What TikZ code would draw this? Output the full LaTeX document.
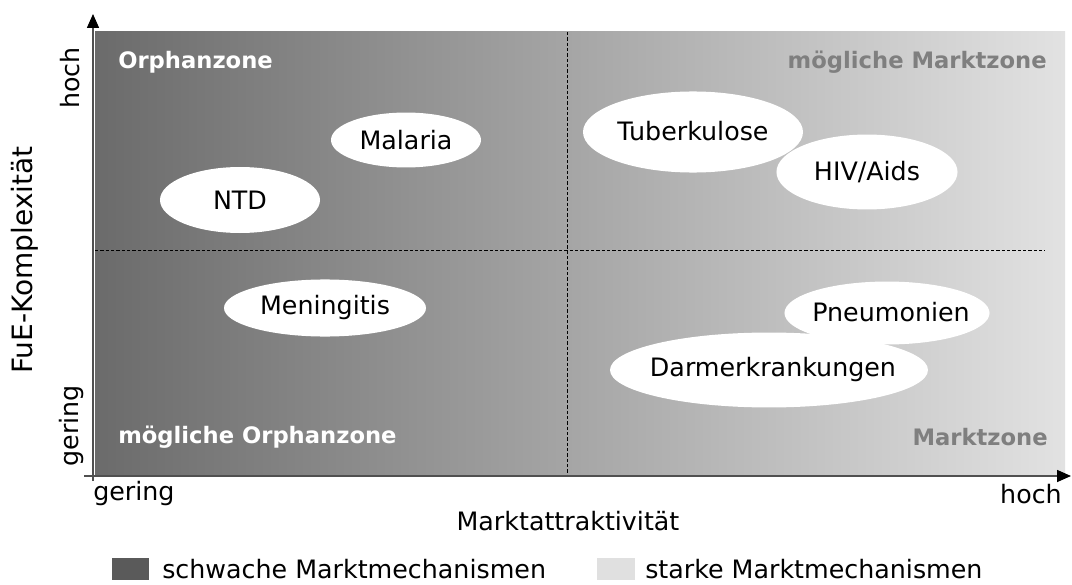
\documentclass[tikz,border=0pt]{standalone}
\usepackage{fontspec}
\setmainfont{DejaVu Sans}
\usetikzlibrary{arrows.meta}

\definecolor{fielddark}{HTML}{6B6B6B}
\definecolor{fieldlight}{HTML}{E2E2E2}
\definecolor{boxdark}{HTML}{5A5A5A}
\definecolor{boxlight}{HTML}{E0E0E0}
\definecolor{zonegray}{HTML}{7F7F7F}
\definecolor{axisgray}{HTML}{505050}

\tikzset{
  blob/.style={fill=white},
  disease/.style={inner sep=0pt, font=\fontsize{19}{23}\selectfont},
  zone/.style={inner sep=0pt, font=\fontsize{17}{20}\selectfont\bfseries},
  lbl/.style={inner sep=0pt, font=\fontsize{19}{23}\selectfont},
  axis/.style={draw=axisgray, line width=1.2pt, -{Triangle[length=10.5pt,width=9pt,color=black]}},
  split/.style={line width=0.6pt, dash pattern=on 2.5pt off 1.5pt}
}

\begin{document}
\begin{tikzpicture}[x=0.75pt,y=-0.75pt]
\useasboundingbox (0,0) rectangle (1072,585);

% Corners of the field and the ends of the axes
\coordinate (tl) at (95,32);
\coordinate (br) at (1065,476);
\coordinate (ytop) at (93,14);
\coordinate (ybot) at (93,481);
\coordinate (xleft) at (84,476);
\coordinate (xright) at (1071,476);

% Field, dark on the left and light on the right
\shade [left color=fielddark, right color=fieldlight] (tl) rectangle (br);

% Borders between the four zones
\coordinate (mtop) at (567,32);
\coordinate (mbot) at (567,476);
\coordinate (mleft) at (95,250);
\coordinate (mright) at (1045,250);
\draw [split] (mtop)--(mbot);
\draw [split] (mleft)--(mright);

% Axes
\draw [axis] (ybot)--(ytop);
\draw [axis] (xleft)--(xright);

% Names of the zones
\node [zone, white, anchor=west] (orph) at (118,62) {Orphanzone};
\node [zone, zonegray, anchor=east] (mmarkt) at (1047,62) {mögliche Marktzone};
\node [zone, white, anchor=west] (morph) at (118,437) {mögliche Orphanzone};
\node [zone, zonegray, anchor=east] (markt) at (1048,437) {Marktzone};

% White ellipses behind the diseases
\fill [blob] (406,140) ellipse [x radius=56.25pt, y radius=20.6pt];
\fill [blob] (240,200) ellipse [x radius=60pt, y radius=24.75pt];
\fill [blob] (693,132) ellipse [x radius=82.5pt, y radius=30.4pt];
\fill [blob] (867,172) ellipse [x radius=67.9pt, y radius=28.1pt];
\fill [blob] (325,308) ellipse [x radius=75.75pt, y radius=21.4pt];
\fill [blob] (887,313) ellipse [x radius=76.9pt, y radius=23.6pt];
\fill [blob] (769,370) ellipse [x radius=119.25pt, y radius=28.1pt];

% Diseases
\node [disease] (mal) at (406,140) {Malaria};
\node [disease] (ntd) at (240,200) {NTD};
\node [disease] (tbc) at (693,131) {Tuberkulose};
\node [disease] (hiv) at (867,172) {HIV/Aids};
\node [disease] (men) at (325,308) {Meningitis};
\node [disease] (pneu) at (891,312) {Pneumonien};
\node [disease] (darm) at (773,370) {Darmerkrankungen};

% Axis labels
\node [lbl, rotate=90] (yhoch) at (70,78) {hoch};
\node [lbl, rotate=90] (ygering) at (72,426) {gering};
\node [lbl, rotate=90, font=\fontsize{21}{25}\selectfont] (ytitle) at (25,260) {FuE-Komplexität};
\node [lbl, anchor=west] (xgering) at (93,494) {gering};
\node [lbl, anchor=east] (xhoch) at (1062,494) {hoch};
\node [lbl] (xtitle) at (568,521) {Marktattraktivität};

% Legend
\fill [boxdark] (112,558) rectangle (149,580);
\node [lbl, anchor=base west] (weak) at (162,578) {schwache Marktmechanismen};
\fill [boxlight] (597,558) rectangle (635,580);
\node [lbl, anchor=base west] (strong) at (645,578) {starke Marktmechanismen};

\end{tikzpicture}
\end{document}
